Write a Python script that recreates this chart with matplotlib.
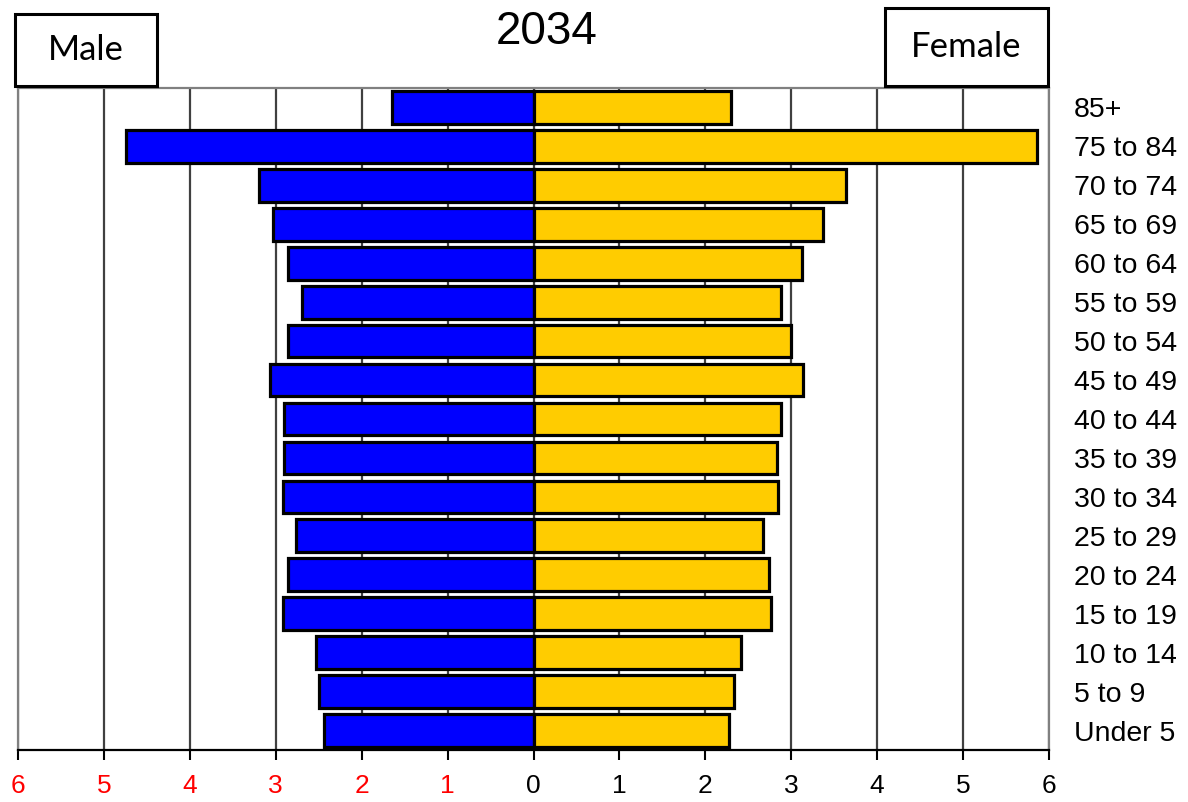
import matplotlib
matplotlib.use('Agg')
import matplotlib.pyplot as plt
from matplotlib.patches import Rectangle
import numpy as np

# age groups, bottom to top
ages = ['Under 5', '5 to 9', '10 to 14', '15 to 19', '20 to 24', '25 to 29',
        '30 to 34', '35 to 39', '40 to 44', '45 to 49', '50 to 54', '55 to 59',
        '60 to 64', '65 to 69', '70 to 74', '75 to 84', '85+']
male = [2.44, 2.50, 2.53, 2.92, 2.86, 2.77, 2.92, 2.90, 2.90, 3.07, 2.86,
        2.69, 2.86, 3.03, 3.20, 4.74, 1.65]
female = [2.28, 2.33, 2.41, 2.77, 2.74, 2.67, 2.85, 2.83, 2.88, 3.14, 3.00,
          2.88, 3.12, 3.37, 3.64, 5.86, 2.30]
ticks = list(range(-6, 7))
year = '2034'

W, H = 1188, 802
fig = plt.figure(figsize=(W / 100, H / 100), dpi=100)
ax = fig.add_axes([18 / W, 1 - 750 / H, (1049 - 18) / W, (750 - 88) / H])

y = np.arange(len(ages))
ax.barh(y, [-m for m in male], height=0.84, color='#0000FF',
        edgecolor='black', linewidth=2.3, zorder=3)
ax.barh(y, female, height=0.84, color='#FFCC00',
        edgecolor='black', linewidth=2.3, zorder=3)

ax.set_xlim(-6, 6)
ax.set_ylim(-0.5, len(ages) - 0.5)

ax.set_xticks(ticks)
ax.set_xticklabels([str(abs(t)) for t in ticks], fontsize=19,
                   family='Liberation Sans')
for lbl, t in zip(ax.get_xticklabels(), ticks):
    lbl.set_color('red' if t < 0 else 'black')
ax.tick_params(axis='x', length=7, width=1.5, pad=10)

ax.yaxis.tick_right()
ax.set_yticks(y)
ax.set_yticklabels(ages, fontsize=20.5, family='Liberation Sans')
ax.tick_params(axis='y', length=0, pad=18)

ax.grid(axis='x', color='#404040', linewidth=1.6, zorder=0)
ax.set_axisbelow(True)
for s in ['left', 'top', 'right']:
    ax.spines[s].set_color('#808080')
    ax.spines[s].set_linewidth(1.6)
ax.spines['bottom'].set_linewidth(1.6)

fig.text(547 / W, 1 - 32 / H, year, ha='center', va='center',
         fontsize=33, family='Liberation Sans')

# Male / Female boxes
for (x0, x1, y0, y1, txt) in [(15, 157, 14, 86, 'Male'),
                              (885, 1048, 8, 86, 'Female')]:
    fig.patches.append(Rectangle((x0 / W, 1 - y1 / H), (x1 - x0) / W,
                                 (y1 - y0) / H, transform=fig.transFigure,
                                 facecolor='white', edgecolor='black',
                                 linewidth=2.2))
    fig.text((x0 + x1) / 2 / W, 1 - (y0 + y1) / 2 / H, txt, ha='center',
             va='center', fontsize=25, family='Lato')

plt.savefig('out.png', dpi=100)
